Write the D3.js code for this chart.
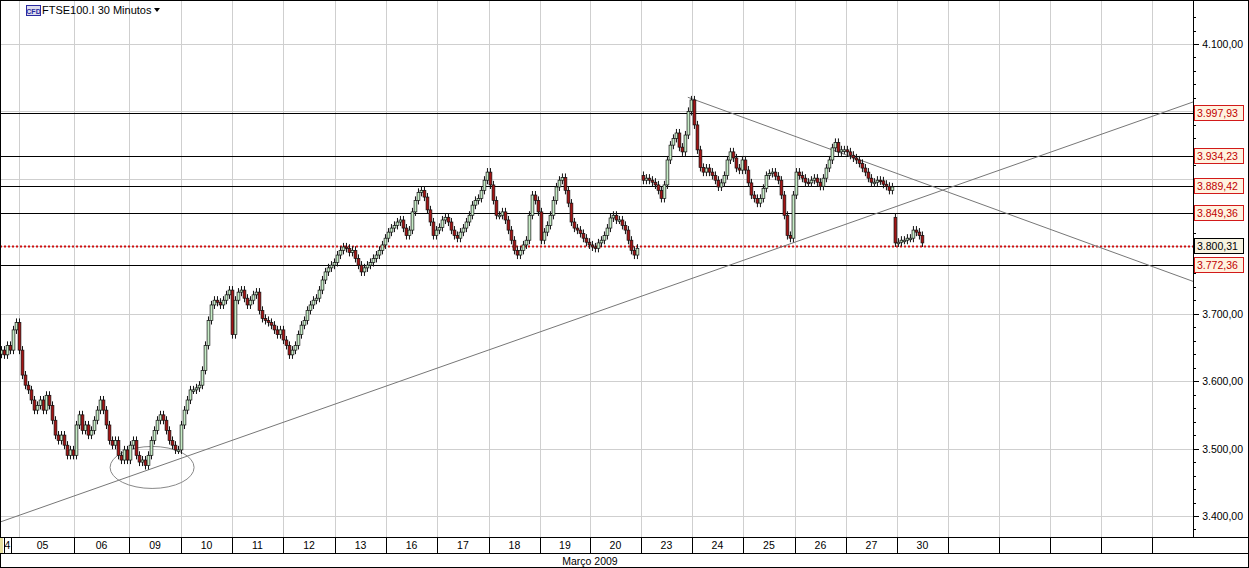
<!DOCTYPE html>
<html><head><meta charset="utf-8">
<script src="https://cdn.jsdelivr.net/npm/d3@7"></script>
<style>body{margin:0;background:#fff}svg{display:block;font-family:"Liberation Sans",Arial,sans-serif}</style>
</head><body><svg id="c" width="1249" height="568"></svg>
<script>
// 30-minute closes, one row per trading day (null = no bar)
const closes = [
 3646,3639,3653,3646,3676,3687,3646,3609,3594,3587,3572,3557,3564,3572,3557,3579,3564,3542,3520,3512,3520,3505,3490,3498,3490,
 3535,3550,3527,3535,3520,3527,3542,3557,3572,3557,3535,3512,3505,3512,3490,3483,3498,3483,
 3505,3512,3490,3480,3483,3475,3490,3512,3527,3542,3550,3542,3527,3512,3505,3498,3498,
 3535,3557,3572,3587,3587,3590,3594,3616,3653,3690,3713,3720,3717,3713,3720,3728,3735,
 3669,3720,3732,3735,3723,3713,3720,3728,3732,3705,3693,3690,3687,3683,3676,3669,3676,
 3661,3653,3639,3646,3653,3669,3683,3690,3705,3713,3720,3723,3735,3750,3762,3768,3772,
 3776,3787,3794,3799,3797,3791,3794,3782,3772,3762,3768,3772,3776,3782,3787,3794,3802,
 3812,3821,3827,3831,3836,3839,3827,3816,3824,3851,3868,3880,3883,3873,3854,3836,3816,3824,
 3828,3839,3843,3836,3824,3816,3812,3821,3827,3836,3846,3861,3868,3871,3883,3898,3910,
 3891,3868,3846,3846,3851,3839,3824,3809,3794,3787,3794,3802,3809,3846,3876,3868,3851,
 3809,3821,3831,3846,3868,3888,3898,3902,3883,3864,3836,3827,3824,3819,3812,3806,
 3802,3799,3797,3805,3809,3816,3827,3842,3846,3839,3839,3831,3824,3809,3794,3787,3797,null,
 3898,3901,3898,3895,3891,3883,3871,3891,3928,3950,3960,3968,3947,3940,3965,4000,4017,
 3980,3943,3917,3910,3916,3910,3905,3898,3888,3894,3905,3928,3940,3931,3916,3913,3928,
 3913,3894,3876,3871,3864,3871,3886,3905,3908,3910,3904,3898,3876,3846,3816,3812,3876,
 3910,3905,3901,3895,3894,3898,3901,3895,3889,3901,3916,3928,3946,3954,3940,3943,3943,
 3940,3935,3931,3928,3923,3916,3910,3901,3895,3895,3898,3897,3892,3889,3883,3888,
 3805,3806,3809,3809,3812,3812,3824,3821,3816,3805
];
const sessionOpens = {0:3640, 214:3905, 298:3843}; // opens after price gaps
const wickSize = 6;
const dayLabels = ["4","05","06","09","10","11","12","13","16","17","18","19","20","23","24","25","26","27","30","","","","",""];
const dayBounds = [1.2,3.67,24.67,43,60.33,77.33,94.33,111.67,128.67,145.67,163,180,196.67,213.67,230.67,247.67,265,282,299,316,333,350,367,384,397.7];
const gridIdx = [6.33,24.67,43,60.33,77.33,94.33,111.67,128.67,145.67,163,180,196.67,213.67,230.67,247.67,265,282,299,316,333,350,367,384];
const yTicks = [3400,3500,3600,3700,3800,3900,4000,4100];
const levels = [3997.93,3934.23,3889.42,3849.36,3772.36];
const lastPrice = 3800.31;
const trendUp = [[0,3391],[397.7,4014]];
const trendDown = [[229.3,4021],[397.7,3748]];
const ellipseC = [50.7,3472];

const svg = d3.select("#c");
const W=1193, H=537;
const x = d3.scaleLinear().domain([0,397.7]).range([0,W]);
const y = d3.scaleLinear().domain([3400,4100]).range([516,44]);
const fmt = v => d3.format(",.2f")(v).replace(/,/g,"#").replace(".",",").replace(/#/g,".");

svg.append("defs").append("clipPath").attr("id","pc").append("rect").attr("width",W).attr("height",H);
const g = svg.append("g").attr("clip-path","url(#pc)");
g.selectAll(".vg").data(gridIdx).join("line").attr("x1",d=>Math.round(x(d))+.5).attr("x2",d=>Math.round(x(d))+.5).attr("y1",0).attr("y2",H).attr("stroke","#cfcfcf");
g.selectAll(".hg").data(yTicks).join("line").attr("y1",d=>Math.round(y(d))+.5).attr("y2",d=>Math.round(y(d))+.5).attr("x1",0).attr("x2",W).attr("stroke","#cfcfcf");
g.selectAll(".lv").data(levels).join("line").attr("y1",d=>Math.round(y(d))+.5).attr("y2",d=>Math.round(y(d))+.5).attr("x1",0).attr("x2",W).attr("stroke","#000");
g.append("line").attr("y1",Math.round(y(lastPrice))+.5).attr("y2",Math.round(y(lastPrice))+.5).attr("x1",0).attr("x2",W).attr("stroke","#d01010").attr("stroke-width",2).attr("stroke-dasharray","2,2");
[trendUp,trendDown].forEach(t=>g.append("line").attr("x1",x(t[0][0])).attr("y1",y(t[0][1])).attr("x2",x(t[1][0])).attr("y2",y(t[1][1])).attr("stroke","#777").attr("stroke-width",1));
g.append("ellipse").attr("cx",x(ellipseC[0])).attr("cy",y(ellipseC[1])).attr("rx",42).attr("ry",21).attr("fill","none").attr("stroke","#888");
const candles=[];
closes.forEach((c,i)=>{ if(c==null) return;
  let o = sessionOpens[i]!==undefined ? sessionOpens[i] : closes[i-1];
  candles.push({i,o,c,h:Math.max(o,c)+wickSize,l:Math.min(o,c)-wickSize});
});
const cg = g.append("g");
cg.selectAll(".w").data(candles).join("line").attr("x1",d=>x(d.i+0.5)).attr("x2",d=>x(d.i+0.5)).attr("y1",d=>y(d.h)).attr("y2",d=>y(d.l)).attr("stroke","#111").attr("stroke-width",1);
cg.selectAll(".b").data(candles).join("rect").attr("x",d=>x(d.i+0.5)-1.4).attr("width",2.8)
 .attr("y",d=>y(Math.max(d.o,d.c))).attr("height",d=>Math.max(1.5,Math.abs(y(d.o)-y(d.c))))
 .attr("fill",d=>d.c>=d.o?"#c6ecc6":"#a31515").attr("stroke","#111").attr("stroke-width",0.7);

svg.append("rect").attr("x",.5).attr("y",.5).attr("width",1248).attr("height",567).attr("fill","none").attr("stroke","#000");
svg.append("line").attr("x1",W+.5).attr("x2",W+.5).attr("y1",0).attr("y2",H).attr("stroke","#000");
svg.append("line").attr("x1",0).attr("x2",1249).attr("y1",H+.5).attr("y2",H+.5).attr("stroke","#000");
svg.append("line").attr("x1",0).attr("x2",1249).attr("y1",553.5).attr("y2",553.5).attr("stroke","#000");
const ax = svg.append("g");
const minor = d3.range(3380,4160,20);
ax.selectAll(".mt").data(minor).join("line").attr("x1",W).attr("x2",d=>W+(d%100===0?6:3)).attr("y1",d=>Math.round(y(d))+.5).attr("y2",d=>Math.round(y(d))+.5).attr("stroke","#000");
const marked = levels.concat([lastPrice]);
const visTicks = yTicks.filter(t=>marked.every(v=>Math.abs(y(v)-y(t))>16));
ax.selectAll(".tl").data(visTicks).join("text").attr("x",1243).attr("y",d=>y(d)+4).attr("text-anchor","end").attr("font-size",10.5).text(d=>fmt(d));
levels.forEach(v=>{const yy=Math.round(y(v));
 ax.append("rect").attr("x",W+1.5).attr("y",yy-7.5).attr("width",49).attr("height",15).attr("fill","#fff3e0").attr("stroke","#d21a1a");
 ax.append("text").attr("x",W+4).attr("y",yy+4).attr("font-size",10.5).attr("fill","#c00000").text(fmt(v));});
{const yy=Math.round(y(lastPrice));
 ax.append("rect").attr("x",W+1.5).attr("y",yy-7.5).attr("width",49).attr("height",15).attr("fill","#f6f3e0").attr("stroke","#000");
 ax.append("text").attr("x",W+4).attr("y",yy+4).attr("font-size",10.5).attr("fill","#000").text(fmt(lastPrice));}
const da = svg.append("g");
dayBounds.forEach(b=>{ if(x(b)<W) da.append("line").attr("x1",Math.round(x(b))+.5).attr("x2",Math.round(x(b))+.5).attr("y1",H).attr("y2",553).attr("stroke","#000");});
dayLabels.forEach((l,k)=>{ if(!l) return; da.append("text").attr("x",(x(dayBounds[k])+x(dayBounds[k+1]))/2).attr("y",549).attr("text-anchor","middle").attr("font-size",10.5).text(l);});
da.append("rect").attr("x",0).attr("y",538).attr("width",3).attr("height",15).attr("fill","#e8e0a0");
svg.append("text").attr("x",x(196.67)).attr("y",565).attr("text-anchor","middle").attr("font-size",10.5).text("Março 2009");
svg.append("rect").attr("x",26.5).attr("y",5.5).attr("width",14).attr("height",10).attr("fill","#dde").attr("stroke","#2a2aa0");
svg.append("text").attr("x",33.5).attr("y",13.5).attr("text-anchor","middle").attr("font-size",7).attr("font-weight","bold").attr("fill","#2a2aa0").text("CFD");
svg.append("text").attr("x",42).attr("y",14).attr("font-size",11).text("FTSE100.I 30 Minutos");
svg.append("path").attr("d","M154,8 L160,8 L157,12 Z").attr("fill","#000");
</script></body></html>
